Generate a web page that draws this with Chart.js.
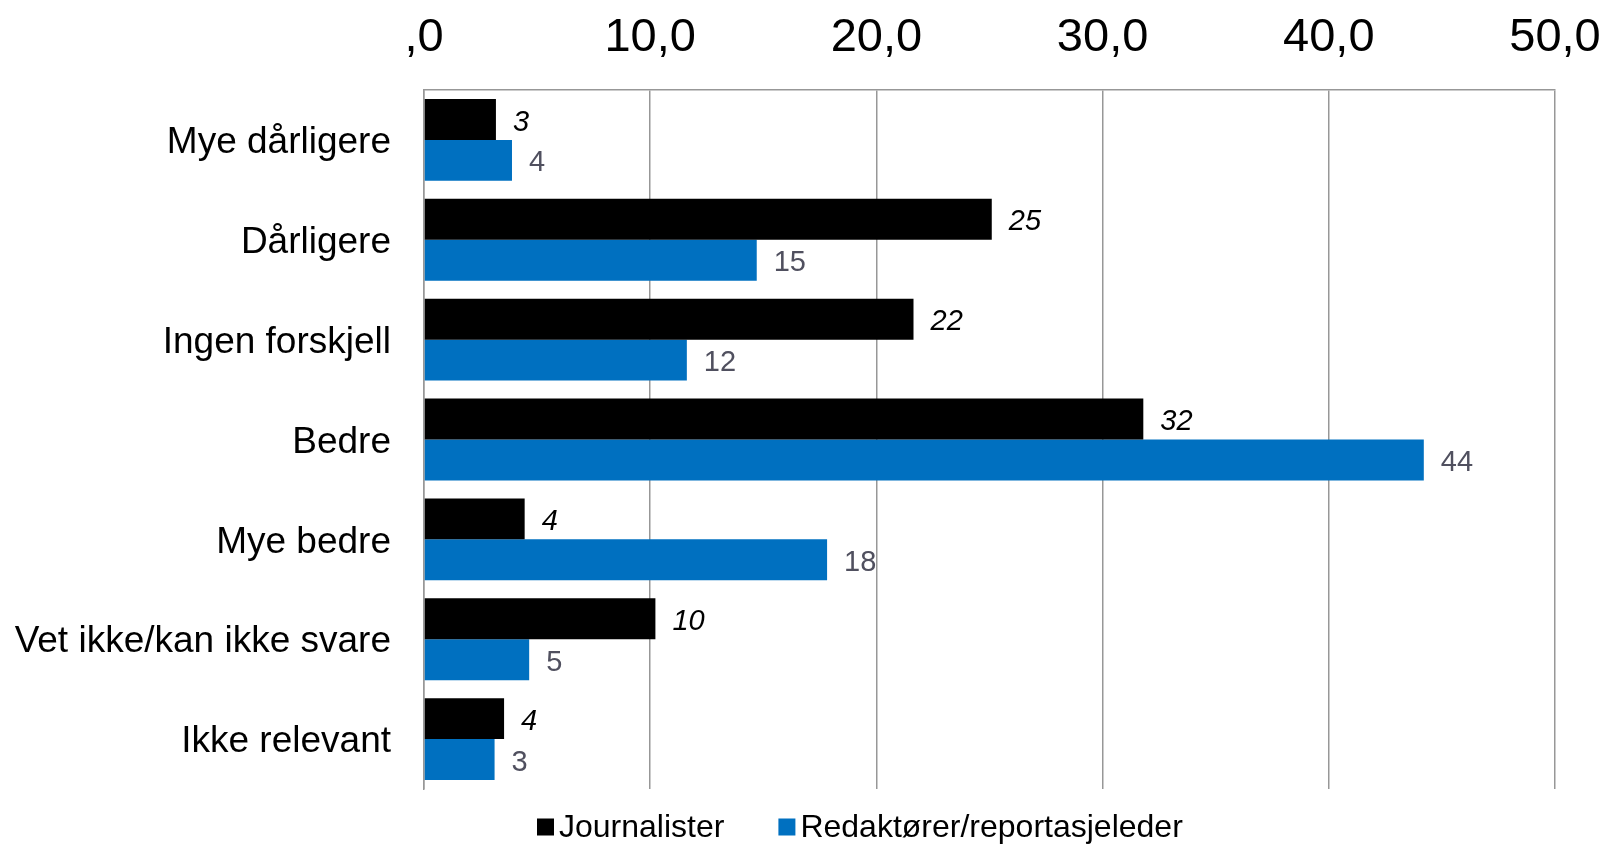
<!DOCTYPE html>
<html lang="no">
<head>
<meta charset="UTF-8">
<title>Journalister og redaktører</title>
<script src="https://cdn.jsdelivr.net/npm/chart.js"></script>
<style>
  html, body { margin: 0; padding: 0; background: #fff; overflow: hidden; }
  #wrap { width: 1604px; height: 844px; position: relative; }
</style>
</head>
<body>
<div id="wrap"><canvas id="chart"></canvas></div>
<script>
// data
const categories = ['Mye dårligere', 'Dårligere', 'Ingen forskjell', 'Bedre', 'Mye bedre', 'Vet ikke/kan ikke svare', 'Ikke relevant'];
const journalister = [3.18, 25.1, 21.64, 31.8, 4.45, 10.23, 3.54];
const redaktorer = [3.89, 14.71, 11.62, 44.2, 17.82, 4.65, 3.12];
const seriesNames = ['Journalister', 'Redaktører/reportasjeleder'];
const tickLabels = [',0', '10,0', '20,0', '30,0', '40,0', '50,0'];

const FONT = '"Liberation Sans", Arial, sans-serif';
const GRID = '#979797';

// value labels to the right of each bar
const valueLabels = {
  id: 'valueLabels',
  afterDatasetsDraw(chart) {
    const ctx = chart.ctx;
    ctx.save();
    ctx.textAlign = 'left';
    ctx.textBaseline = 'middle';
    chart.data.datasets.forEach((ds, i) => {
      const meta = chart.getDatasetMeta(i);
      ctx.font = (i === 0 ? 'italic ' : '') + '29px ' + FONT;
      ctx.fillStyle = i === 0 ? '#000000' : '#50505f';
      meta.data.forEach((bar, j) => {
        ctx.fillText(Math.round(ds.data[j]).toString(), bar.x + 17, bar.y + 3);
      });
    });
    ctx.restore();
  }
};

// legend under the plot
const bottomLegend = {
  id: 'bottomLegend',
  afterDraw(chart) {
    const ctx = chart.ctx;
    ctx.save();
    ctx.font = '32px ' + FONT;
    ctx.textBaseline = 'middle';
    ctx.textAlign = 'left';
    let x = 537;
    const y = 827;
    chart.data.datasets.forEach((ds, i) => {
      ctx.fillStyle = ds.backgroundColor;
      ctx.fillRect(x, y - 8.5, 17, 17);
      x += 17 + 5;
      ctx.fillStyle = '#000000';
      ctx.fillText(ds.label, x, y + 1);
      x += ctx.measureText(ds.label).width + 54;
    });
    ctx.restore();
  }
};

new Chart(document.getElementById('chart'), {
  type: 'bar',
  data: {
    labels: categories,
    datasets: [
      { label: seriesNames[0], data: journalister, backgroundColor: '#000000' },
      { label: seriesNames[1], data: redaktorer, backgroundColor: '#0070c0' }
    ]
  },
  options: {
    indexAxis: 'y',
    responsive: true,
    maintainAspectRatio: false,
    animation: false,
    devicePixelRatio: 1,
    layout: { padding: { top: 0, right: 49, bottom: 55, left: 0 } },
    datasets: { bar: { categoryPercentage: 0.82, barPercentage: 1.0 } },
    plugins: {
      legend: { display: false },
      tooltip: { enabled: false }
    },
    scales: {
      x: {
        position: 'top',
        min: 0,
        max: 50,
        ticks: {
          stepSize: 10,
          padding: 24,
          color: '#000000',
          font: { family: FONT, size: 47 },
          callback: (v, i) => tickLabels[i]
        },
        grid: { color: GRID, lineWidth: 1.5, drawTicks: false },
        border: { display: true, color: GRID, width: 1.5 },
        afterFit: s => { s.height = 90; s.paddingLeft = 0; s.paddingRight = 0; }
      },
      y: {
        ticks: {
          padding: 33,
          labelOffset: 3,
          color: '#000000',
          font: { family: FONT, size: 37 }
        },
        grid: { display: false, drawTicks: false },
        border: { display: true, color: GRID, width: 1.5 },
        afterFit: s => { s.width = 424; s.paddingTop = 0; s.paddingBottom = 0; }
      }
    }
  },
  plugins: [valueLabels, bottomLegend]
});
</script>
</body>
</html>
